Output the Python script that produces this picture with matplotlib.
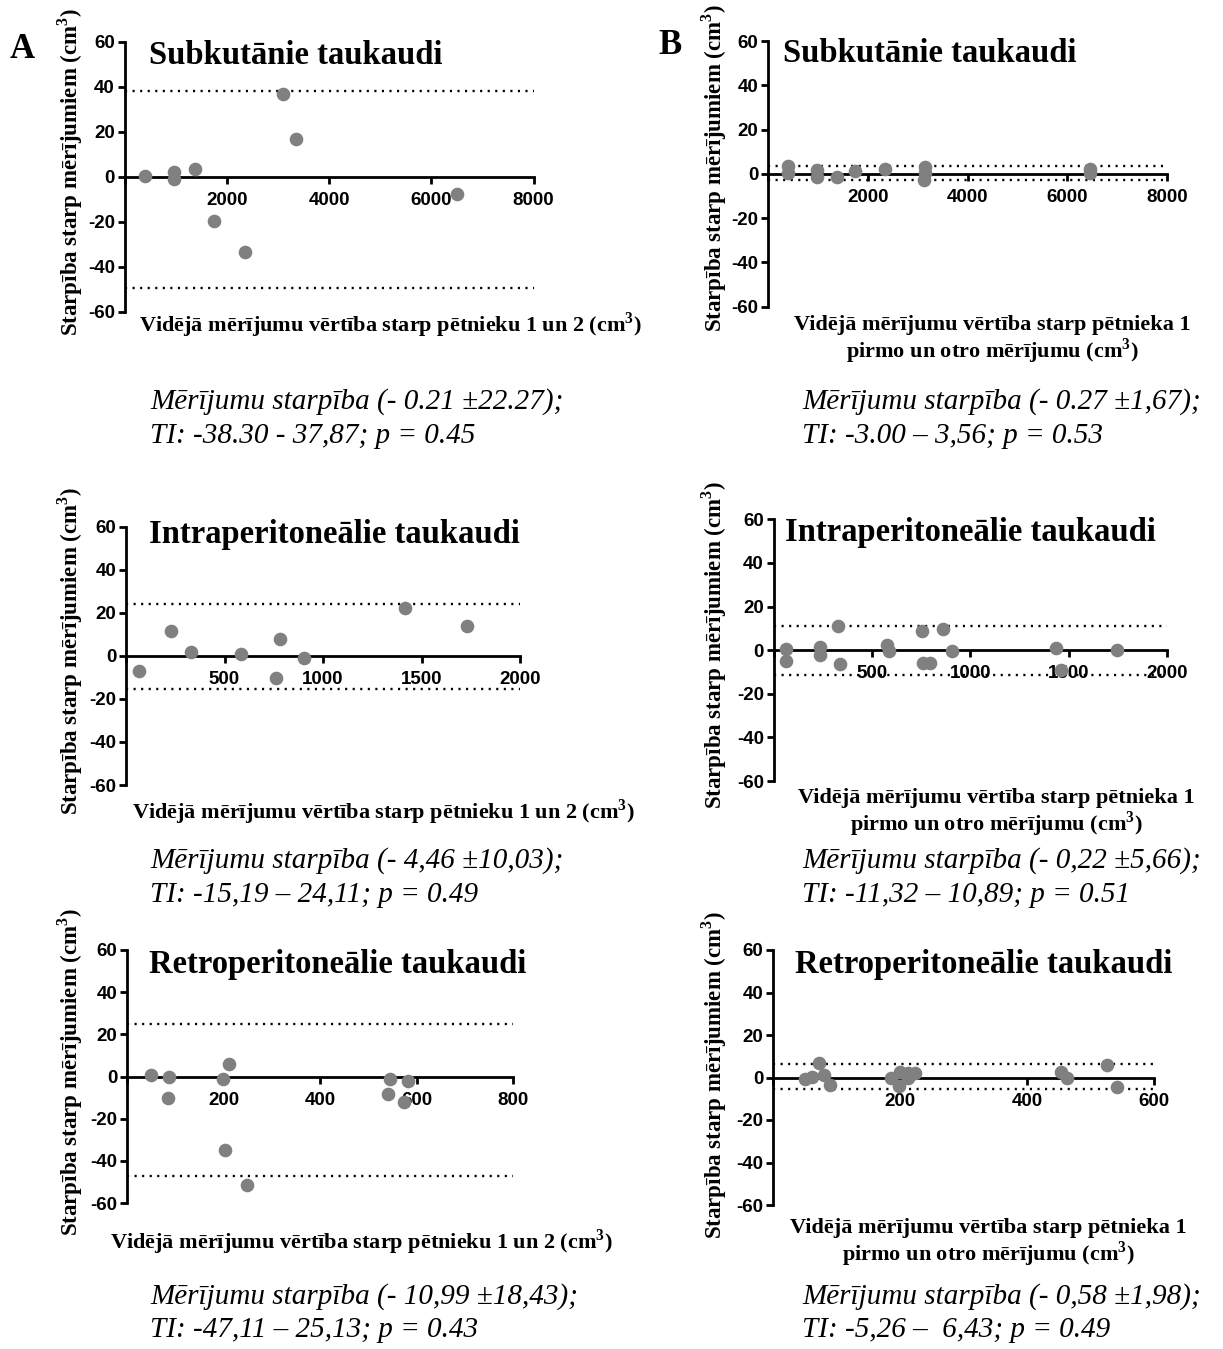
import numpy as np
import matplotlib.pyplot as plt

plt.rcParams["axes.unicode_minus"] = False
plt.rcParams["mathtext.fontset"] = "custom"
plt.rcParams["mathtext.rm"] = "Liberation Serif"
plt.rcParams["mathtext.bf"] = "Liberation Serif:bold"

# A: between researcher 1 and 2
a1_mean = [410, 966, 966, 1384, 1755, 2357, 3099, 3362, 6493]
a1_diff = [0.4, 2.2, -1.2, 3.3, -19.9, -33.3, 36.7, 16.9, -7.7]
a1_loa = [-49.5, 37.9]

a2_mean = [65, 227, 332, 586, 759, 783, 903, 1417, 1732]
a2_diff = [-7.1, 11.5, 2.0, 0.9, -10.5, 7.6, -0.8, 22.1, 13.9]
a2_loa = [-15.3, 24.0]

a3_mean = [49, 88, 86, 198, 211, 203, 248, 545, 541, 582, 575]
a3_diff = [0.8, -0.3, -10.4, -1.3, 6.0, -34.9, -51.5, -1.1, -8.2, -2.1, -12.2]
a3_loa = [-47.4, 25.0]

# B: researcher 1, first vs second measurement
b1_mean = [397, 397, 975, 975, 1383, 1745, 2339, 3156, 3156, 3118, 6447, 6447]
b1_diff = [3.6, 0.3, 1.8, -1.2, -1.5, 1.1, 2.3, 2.9, 0.3, -2.7, 2.1, 0.6]
b1_loa = [-3.0, 3.56]

b2_mean = [65, 65, 235, 235, 330, 338, 575, 589, 753, 761, 796, 862, 905, 1435, 1461, 1744]
b2_diff = [0.3, -5.0, 1.5, -2.0, 10.9, -6.3, 2.3, -0.5, 8.9, -6.1, -5.8, 9.8, -0.3, 0.9, -8.9, 0.0]
b2_loa = [-11.32, 10.89]

b3_mean = [50, 61, 73, 81, 89, 186, 200, 198, 213, 212, 223, 453, 463, 526, 541]
b3_diff = [-0.9, 0.2, 6.7, 1.4, -3.5, 0.0, 2.8, -4.1, -0.2, 2.0, 2.0, 2.4, -0.2, 5.8, -4.5]
b3_loa = [-5.26, 6.43]

titles = ["Subkutānie taukaudi", "Intraperitoneālie taukaudi", "Retroperitoneālie taukaudi"]
ylabel = r"Starpība starp mērījumiem (cm$^{\mathbf{3}}$)"
xlabel_a = r"Vidējā mērījumu vērtība starp pētnieku 1 un 2 (cm$^{\mathbf{3}}$)"
xlabel_b1 = "Vidējā mērījumu vērtība starp pētnieka 1"
xlabel_b2 = r"pirmo un otro mērījumu (cm$^{\mathbf{3}}$)"

stats_a = [("Mērījumu starpība (- 0.21 ±22.27);", "TI: -38.30 - 37,87; p = 0.45"),
           ("Mērījumu starpība (- 4,46 ±10,03);", "TI: -15,19 – 24,11; p = 0.49"),
           ("Mērījumu starpība (- 10,99 ±18,43);", "TI: -47,11 – 25,13; p = 0.43")]
stats_b = [("Mērījumu starpība (- 0.27 ±1,67);", "TI: -3.00 – 3,56; p = 0.53"),
           ("Mērījumu starpība (- 0,22 ±5,66);", "TI: -11,32 – 10,89; p = 0.51"),
           ("Mērījumu starpība (- 0,58 ±1,98);", "TI: -5,26 –  6,43; p = 0.49")]

W, H = 1223, 1349
fig = plt.figure(figsize=(W / 100, H / 100), dpi=100)

SERIF = "Liberation Serif"
SANS = "Liberation Sans"


def ftext(x, y, s, **kw):
    # place text by pixel position (y from top)
    fig.text(x / W, 1 - y / H, s, **kw)


def panel(box, xs, ds, loa, xmax, xstep):
    x0, x1, ytop, ybot = box
    ax = fig.add_axes([x0 / W, 1 - ybot / H, (x1 - x0) / W, (ybot - ytop) / H])
    ax.hlines(loa, 0, xmax, colors="black", linestyles=(0, (0.9, 2.3)), lw=1.7)
    ax.plot(xs, ds, "o", color="#808080", ms=8.8, mec="#808080", zorder=4, clip_on=False)
    ax.set_xlim(0, xmax)
    ax.set_ylim(-60, 60)
    for s in ["top", "right"]:
        ax.spines[s].set_visible(False)
    ax.spines["bottom"].set_position(("data", 0))
    ax.spines["bottom"].set_linewidth(2)
    ax.spines["left"].set_linewidth(2)
    xt = np.arange(0, xmax + 1, xstep)
    ax.set_xticks(xt)
    ax.set_xticklabels([""] + [str(int(v)) for v in xt[1:]])
    ax.set_yticks(np.arange(-60, 61, 20))
    ax.tick_params(direction="out", length=5, width=2, labelsize=13.5)
    ax.tick_params(axis="x", pad=6)
    ax.tick_params(axis="y", pad=2)
    for lab in ax.get_xticklabels() + ax.get_yticklabels():
        lab.set_fontfamily(SANS)
        lab.set_fontweight("bold")
    return ax


panel((124.5, 533.6, 41.7, 311.7), a1_mean, a1_diff, a1_loa, 8000, 2000)
panel((126, 520, 526.7, 785), a2_mean, a2_diff, a2_loa, 2000, 500)
panel((127, 513, 950, 1203), a3_mean, a3_diff, a3_loa, 800, 200)
panel((768, 1167, 41, 306.7), b1_mean, b1_diff, b1_loa, 8000, 2000)
panel((773.5, 1167, 519.3, 781), b2_mean, b2_diff, b2_loa, 2000, 500)
panel((773, 1154, 950, 1205), b3_mean, b3_diff, b3_loa, 600, 200)

bold_serif = dict(fontfamily=SERIF, fontweight="bold")

# panel letters
ftext(10, 50, "A", fontsize=25, va="center", ha="left", **bold_serif)
ftext(658, 45, "B", fontsize=25, va="center", ha="left", **bold_serif)

# titles
for (x, y), t in zip([(149, 55), (149, 535), (149, 965)], titles):
    ftext(x, y, t, fontsize=23.5, va="center", ha="left", **bold_serif)
for (x, y), t in zip([(783, 53), (785, 533), (795, 965)], titles):
    ftext(x, y, t, fontsize=23.5, va="center", ha="left", **bold_serif)

# y labels
for x, y in [(70, 172), (70, 651), (70, 1072), (714, 168), (714, 645), (714, 1075)]:
    ftext(x, y, ylabel, fontsize=16.5, rotation=90, va="center", ha="center", **bold_serif)

# x labels
for x, y in [(390, 325), (383, 812), (361, 1242)]:
    ftext(x, y, xlabel_a, fontsize=16, va="center", ha="center", **bold_serif)
for x, y in [(992, 325), (996, 798), (988, 1228)]:
    ftext(x, y, xlabel_b1, fontsize=16, va="center", ha="center", **bold_serif)
    ftext(x, y + 26, xlabel_b2, fontsize=16, va="center", ha="center", **bold_serif)

# statistics text
for ys, (l1, l2) in zip([(402, 436), (861, 895), (1297, 1330)], stats_a):
    ftext(150, ys[0], l1, fontsize=21, style="italic", fontfamily=SERIF, va="center")
    ftext(150, ys[1], l2, fontsize=21, style="italic", fontfamily=SERIF, va="center")
for ys, (l1, l2) in zip([(402, 436), (861, 895), (1297, 1330)], stats_b):
    ftext(802, ys[0], l1, fontsize=21, style="italic", fontfamily=SERIF, va="center")
    ftext(802, ys[1], l2, fontsize=21, style="italic", fontfamily=SERIF, va="center")

fig.savefig("out.png", dpi=100, facecolor="white")
